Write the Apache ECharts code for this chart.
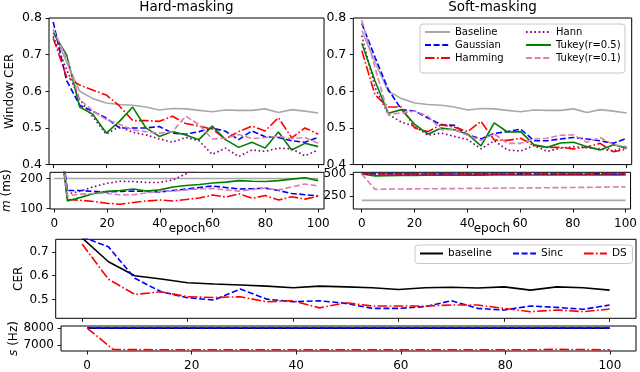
<!DOCTYPE html>
<html>
<head>
<meta charset="utf-8">
<script src="https://cdn.jsdelivr.net/npm/echarts@6/dist/echarts.min.js"></script>
<style>html,body{margin:0;padding:0;background:#fff}#c{width:640px;height:372px}</style>
</head>
<body>
<div id="c"></div>
<script>
// ---------- data ----------
const epochs = [0,5,10,15,20,25,30,35,40,45,50,55,60,65,70,75,80,85,90,95,100];
const xTickLabels = [0,20,40,60,80,100];

// Window CER, shared baseline
const baselineCER = [0.766,0.68,0.6,0.58,0.568,0.564,0.562,0.557,0.549,0.553,0.552,0.548,0.544,0.549,0.548,0.548,0.552,0.542,0.55,0.546,0.541];
// Hard-masking CER
const gaussHard  = [0.789,0.63,0.562,0.545,0.527,0.5,0.5,0.5,0.504,0.486,0.483,0.49,0.5,0.491,0.468,0.492,0.476,0.474,0.465,0.461,0.474];
const hammHard   = [0.745,0.64,0.617,0.603,0.59,0.56,0.52,0.52,0.518,0.532,0.512,0.505,0.497,0.47,0.49,0.505,0.492,0.528,0.473,0.5,0.483];
const hannHard   = [0.75,0.66,0.578,0.53,0.483,0.504,0.488,0.481,0.47,0.461,0.474,0.465,0.428,0.445,0.422,0.44,0.436,0.445,0.443,0.424,0.44];
const tukey5Hard = [0.76,0.70,0.557,0.537,0.486,0.518,0.557,0.5,0.477,0.49,0.481,0.468,0.505,0.468,0.447,0.461,0.445,0.489,0.44,0.458,0.449];
const tukey1Hard = [0.77,0.69,0.578,0.546,0.523,0.51,0.495,0.49,0.486,0.49,0.532,0.509,0.47,0.472,0.482,0.471,0.474,0.477,0.471,0.474,0.458];
// Soft-masking CER
const gaussSoft  = [0.785,0.693,0.605,0.55,0.546,0.527,0.509,0.507,0.481,0.47,0.485,0.49,0.497,0.465,0.465,0.47,0.474,0.47,0.465,0.458,0.472];
const hammSoft   = [0.711,0.59,0.557,0.557,0.5,0.49,0.509,0.502,0.49,0.518,0.467,0.466,0.472,0.452,0.447,0.447,0.443,0.448,0.458,0.435,0.442];
const hannSoft   = [0.752,0.61,0.537,0.516,0.504,0.48,0.486,0.477,0.468,0.443,0.465,0.44,0.437,0.452,0.436,0.445,0.449,0.446,0.443,0.437,0.449];
const tukey5Soft = [0.731,0.628,0.54,0.55,0.51,0.483,0.5,0.495,0.483,0.451,0.514,0.489,0.49,0.454,0.447,0.459,0.461,0.449,0.44,0.454,0.445];
const tukey1Soft = [0.794,0.665,0.537,0.541,0.546,0.532,0.495,0.495,0.48,0.466,0.484,0.458,0.458,0.47,0.472,0.48,0.481,0.461,0.474,0.454,0.449];

// m (ms)
const baselineM  = [200,200,200,200,200,200,200,200,200,200,200,200,200,200,200,200,200,200,200,200,200];
const gaussHardM = [500,160,160,157,155,157,158,157,155,160,165,170,175,170,165,166,168,160,150,146,142];
const hammHardM  = [500,130,127,123,117,114,120,125,128,125,130,135,145,138,149,134,143,128,139,131,141];
const hannHardM  = [500,148,158,173,184,191,190,187,187,196,216,235,250,262,270,280,285,290,295,300,305];
const tukey5HardM= [500,125,137,150,157,160,165,158,162,172,177,180,185,188,193,191,190,193,198,203,193];
const tukey1HardM= [500,142,148,150,151,145,146,152,157,158,162,165,167,162,158,163,168,162,172,182,175];

const gaussSoftM = [500,502,501,501,500,500,501,500,500,501,500,500,501,500,500,501,500,500,501,500,500];
const hammSoftM  = [500,501,500,500,501,500,500,501,500,500,501,500,500,501,500,500,501,500,500,501,500];
const hannSoftM  = [500,500,500,501,500,500,500,500,501,500,500,500,500,500,501,500,500,500,500,500,501];
const tukey5SoftM= [500,478,480,482,484,485,486,486,487,487,488,488,488,489,489,489,490,490,490,490,490];
const tukey1SoftM= [500,325,328,330,331,332,333,334,336,337,338,340,341,342,344,345,347,348,350,352,354];

// Bottom: CER and s (Hz)
const baselineB = [0.76,0.659,0.6,0.586,0.57,0.565,0.561,0.556,0.549,0.556,0.553,0.549,0.542,0.549,0.551,0.548,0.553,0.539,0.553,0.549,0.539];
const sincCER   = [0.765,0.722,0.589,0.532,0.507,0.497,0.544,0.501,0.49,0.494,0.483,0.462,0.462,0.469,0.494,0.462,0.455,0.472,0.466,0.458,0.476];
const dsCER     = [0.734,0.585,0.521,0.532,0.511,0.508,0.511,0.49,0.494,0.464,0.486,0.472,0.472,0.472,0.476,0.476,0.462,0.448,0.455,0.448,0.459];
const baselineS = [8000,8000,8000,8000,8000,8000,8000,8000,8000,8000,8000,8000,8000,8000,8000,8000,8000,8000,8000,8000,8000];
const sincS     = [8000,8000,8000,8000,8000,8000,8000,8000,8000,8000,8000,8000,8000,8000,8000,8000,8000,8000,8000,8000,8000];
const dsS       = [8000,6730,6720,6715,6710,6710,6712,6710,6715,6712,6710,6712,6715,6712,6710,6715,6718,6712,6740,6725,6712];

const yTicksCER = [0.4,0.5,0.6,0.7,0.8];
const yTicksMHard = [100,200];
const yTicksMSoft = [250,500];
const yTicksB = [0.5,0.6,0.7];
const yTicksS = [7000,8000];

// ---------- styles ----------
const FONT = 'DejaVu Sans';
const LW = 1.6;
const ST = {
  base:  {color:'#a9a9a9', type:'solid'},
  gauss: {color:'#0000ff', type:[6,2.6]},
  hamm:  {color:'#ff0000', type:[9.6,2.4,1.6,2.4]},
  hann:  {color:'#800080', type:[1.6,2.6]},
  t5:    {color:'#008000', type:'solid'},
  t1:    {color:'#dc7fb5', type:[6,2.6]},
  black: {color:'#000000', type:'solid'},
};

const pairs = ys => epochs.map((e,i)=>[e, ys[i]]);
function line(name, ys, st, gi) {
  return {
    name, type:'line', xAxisIndex:gi, yAxisIndex:gi, data:pairs(ys),
    symbol:'none', showSymbol:false, clip:true, animation:false,
    lineStyle:{color:st.color, type:st.type, width:LW, cap:'butt'},
    itemStyle:{color:st.color}, z:2
  };
}

const grids = [
  {left:49, top:18, width:275, height:146.6},
  {left:49, top:172.3, width:275, height:36.7},
  {left:353.3, top:18, width:278.4, height:146.6},
  {left:353.3, top:172.3, width:278.4, height:36.7},
  {left:55.7, top:239.3, width:580.3, height:79},
  {left:55.7, top:326, width:580.3, height:27.3},
].map(g => Object.assign({show:true, borderColor:'#000', borderWidth:1, backgroundColor:'transparent'}, g));

const tickStyle = {color:'#000', width:0.9};
function xAx(gi, min, max, showLabel, name) {
  const a = {
    type:'value', gridIndex:gi, min, max,
    axisLine:{show:false, onZero:false}, splitLine:{show:false},
    axisTick:{show:true, inside:false, length:3.5, customValues:xTickLabels, lineStyle:tickStyle},
    axisLabel:{show:showLabel, customValues:xTickLabels, color:'#000', fontSize:12, fontFamily:FONT, margin:9,
               formatter:v=>String(v)}
  };
  if (name) {
    a.name = name; a.nameLocation = 'middle'; a.nameGap = 14; a.nameMoveOverlap = false;
    a.nameTextStyle = {color:'#000', fontSize:12, fontFamily:FONT};
  }
  return a;
}
function yAx(gi, min, max, ticks, name, gap, rich, fs) {
  const a = {
    type:'value', gridIndex:gi, min, max,
    axisLine:{show:false, onZero:false}, splitLine:{show:false},
    axisTick:{show:true, inside:false, length:3.5, customValues:ticks, lineStyle:tickStyle},
    axisLabel:{show:true, customValues:ticks, color:'#000', fontSize:fs || 12, fontFamily:FONT, margin:7,
               formatter:v=>String(v)}
  };
  if (name) {
    a.name = name; a.nameLocation = 'middle'; a.nameGap = gap; a.nameMoveOverlap = false;
    a.nameTextStyle = {color:'#000', fontSize:12, fontFamily:FONT};
    if (rich) a.nameTextStyle.rich = rich;
  }
  return a;
}
const italic = {i:{fontStyle:'italic', fontSize:12, fontFamily:FONT, color:'#000'}};

const xAxis = [
  xAx(0, -1.6, 102.2, false),
  xAx(1, -1.6, 102.2, true, 'epoch'),
  xAx(2, -3.2, 101.9, false),
  xAx(3, -3.2, 101.9, true, 'epoch'),
  xAx(4, -5, 105, false),
  xAx(5, -5, 105, true),
];
const yAxis = [
  yAx(0, 0.4, 0.8, yTicksCER, 'Window CER', 33, null, 12.5),
  yAx(1, 98, 221, yTicksMHard, '{i|m} (ms)', 37, italic),
  yAx(2, 0.4, 0.8, yTicksCER, null, 0, null, 12.5),
  yAx(3, 102, 519, yTicksMSoft),
  yAx(4, 0.42, 0.754, yTicksB, 'CER', 31),
  yAx(5, 6640, 8125, yTicksS, '{i|s} (Hz)', 41, italic),
];

const series = [
  line('Baseline', baselineCER, ST.base, 0),
  line('Gaussian', gaussHard, ST.gauss, 0),
  line('Hamming', hammHard, ST.hamm, 0),
  line('Hann', hannHard, ST.hann, 0),
  line('Tukey(r=0.5)', tukey5Hard, ST.t5, 0),
  line('Tukey(r=0.1)', tukey1Hard, ST.t1, 0),

  line('Baseline', baselineM, ST.base, 1),
  line('Gaussian', gaussHardM, ST.gauss, 1),
  line('Hamming', hammHardM, ST.hamm, 1),
  line('Hann', hannHardM, ST.hann, 1),
  line('Tukey(r=0.5)', tukey5HardM, ST.t5, 1),
  line('Tukey(r=0.1)', tukey1HardM, ST.t1, 1),

  line('Baseline', baselineCER, ST.base, 2),
  line('Gaussian', gaussSoft, ST.gauss, 2),
  line('Hamming', hammSoft, ST.hamm, 2),
  line('Hann', hannSoft, ST.hann, 2),
  line('Tukey(r=0.5)', tukey5Soft, ST.t5, 2),
  line('Tukey(r=0.1)', tukey1Soft, ST.t1, 2),

  line('Baseline', baselineM, ST.base, 3),
  line('Tukey(r=0.5)', tukey5SoftM, ST.t5, 3),
  line('Gaussian', gaussSoftM, ST.gauss, 3),
  line('Hamming', hammSoftM, ST.hamm, 3),
  line('Hann', hannSoftM, ST.hann, 3),
  line('Tukey(r=0.1)', tukey1SoftM, ST.t1, 3),

  line('baseline', baselineB, ST.black, 4),
  line('Sinc', sincCER, ST.gauss, 4),
  line('DS', dsCER, ST.hamm, 4),

  line('baseline', baselineS, ST.black, 5),
  line('Sinc', sincS, ST.gauss, 5),
  line('DS', dsS, ST.hamm, 5),
];

const legendText = {color:'#000', fontFamily:FONT, fontSize:10};
const noSym = {opacity:0, borderWidth:0};
const option = {
  animation:false,
  textStyle:{fontFamily:FONT},
  title:[
    {text:'Hard-masking', left:186.5, top:0, textAlign:'center', padding:0,
     textStyle:{fontSize:13.5, fontWeight:'normal', color:'#000', fontFamily:FONT}},
    {text:'Soft-masking', left:492.5, top:0, textAlign:'center', padding:0,
     textStyle:{fontSize:13.5, fontWeight:'normal', color:'#000', fontFamily:FONT}},
  ],
  grid:grids, xAxis, yAxis, series,
  legend:[
    {data:['Baseline','Gaussian','Hamming'], orient:'vertical', left:424, top:27, padding:0,
     itemWidth:25, itemHeight:12, itemGap:3, textStyle:legendText, itemStyle:noSym, z:10, selectedMode:false},
    {data:['Hann','Tukey(r=0.5)','Tukey(r=0.1)'], orient:'vertical', left:525, top:27, padding:0,
     itemWidth:25, itemHeight:12, itemGap:3, textStyle:legendText, itemStyle:noSym, z:10, selectedMode:false},
    {data:['baseline','Sinc','DS'], orient:'horizontal', left:419, top:248, padding:0,
     itemWidth:23, itemHeight:12, itemGap:20, textStyle:{color:'#000', fontFamily:FONT, fontSize:10.5},
     itemStyle:noSym, z:10, selectedMode:false},
  ],
  graphic:[
    {type:'rect', z:5, shape:{x:420, y:24, width:205, height:49, r:3},
     style:{fill:'rgba(255,255,255,0.85)', stroke:'#c8c8c8', lineWidth:1}},
    {type:'rect', z:5, shape:{x:415, y:245, width:217.5, height:18.5, r:3},
     style:{fill:'rgba(255,255,255,0.85)', stroke:'#c8c8c8', lineWidth:1}},
  ],
};
const chart = echarts.init(document.getElementById('c'), null, {renderer:'canvas', width:640, height:372});
chart.setOption(option);
</script>
</body>
</html>
